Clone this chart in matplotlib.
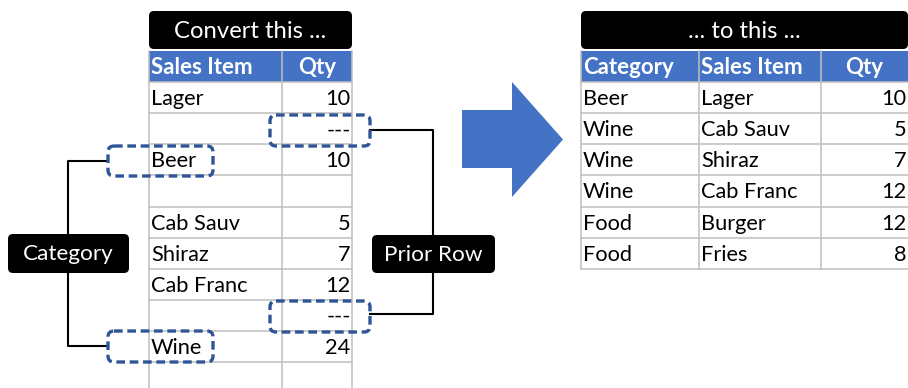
import matplotlib
matplotlib.use("Agg")
import matplotlib.pyplot as plt
from matplotlib.patches import FancyBboxPatch, Rectangle, Polygon

# ---- data ----
left_title = "Convert this ..."
left_headers = ["Sales Item", "Qty"]
left_items = ["Lager", "", "Beer", "", "Cab Sauv", "Shiraz", "Cab Franc", "", "Wine", ""]
left_qty = ["10", "---", "10", "", "5", "7", "12", "---", "24", ""]

right_title = "... to this ..."
right_headers = ["Category", "Sales Item", "Qty"]
right_category = ["Beer", "Wine", "Wine", "Wine", "Food", "Food"]
right_items = ["Lager", "Cab Sauv", "Shiraz", "Cab Franc", "Burger", "Fries"]
right_qty = [10, 5, 7, 12, 12, 8]

label_category = "Category"
label_prior = "Prior Row"

BLUE = "#4472C4"
DASH = "#2F5597"
GRID = "#BFBFBF"
FONT = ["Lato", "DejaVu Sans"]
FS = 15.7
FS_HEAD = 16
FS_TITLE = 17.2
FS_LABEL = 16.2

fig = plt.figure(figsize=(9.08, 3.88), dpi=100)
ax = fig.add_axes([0, 0, 1, 1])
ax.set_xlim(0, 908)
ax.set_ylim(388, 0)
ax.axis("off")


def black_label(x0, y0, x1, y1, text, fs):
    ax.add_patch(FancyBboxPatch((x0, y0), x1 - x0, y1 - y0,
                                boxstyle="round,pad=0,rounding_size=5",
                                fc="black", ec="none", zorder=5))
    ax.text((x0 + x1) / 2, (y0 + y1) / 2 + 1, text, color="white", fontsize=fs,
            family=FONT, ha="center", va="center", zorder=6)


def table(x_cols, y_head, row_h, headers, rows, aligns, y_bottom, right_border=True):
    ax.add_patch(Rectangle((x_cols[0], y_head), x_cols[-1] - x_cols[0], row_h,
                           fc=BLUE, ec="none", zorder=1))
    for i, h in enumerate(headers):
        if aligns[i] == "right":
            xc = (x_cols[i] + x_cols[i + 1]) / 2
            ax.text(xc, y_head + row_h / 2 + 1, h, color="white", fontsize=FS_HEAD,
                    fontweight="bold", family=FONT, ha="center", va="center", zorder=3)
        else:
            ax.text(x_cols[i] + 2, y_head + row_h / 2 + 1, h, color="white", fontsize=FS_HEAD,
                    fontweight="bold", family=FONT, ha="left", va="center", zorder=3)
    y0 = y_head + row_h
    n = len(rows[0])
    for r in range(n + 1):
        y = y0 + r * row_h
        if y <= y_bottom + 0.5:
            ax.plot([x_cols[0], x_cols[-1]], [y, y], color=GRID, lw=1.1, zorder=2)
    xs = x_cols if right_border else x_cols[:-1]
    for x in xs:
        ax.plot([x, x], [y_head, y_bottom], color=GRID, lw=1.1, zorder=2)
    for r in range(n):
        yc = y0 + r * row_h + row_h / 2 + 1.5
        for c, col in enumerate(rows):
            t = str(col[r])
            if not t:
                continue
            if aligns[c] == "right":
                ax.text(x_cols[c + 1] - 1.5, yc, t, fontsize=FS, family=FONT,
                        ha="right", va="center", color="black", zorder=3)
            else:
                ax.text(x_cols[c] + 2, yc, t, fontsize=FS, family=FONT,
                        ha="left", va="center", color="black", zorder=3)


# left table
black_label(149, 11, 352, 49, left_title, FS_TITLE)
table([149, 282, 352], 51, 31.1, left_headers, [left_items, left_qty],
      ["left", "right"], 388)

# right table
black_label(581, 11, 908, 49, right_title, FS_TITLE)
table([581, 699, 821, 908], 51, 31.1, right_headers,
      [right_category, right_items, right_qty], ["left", "left", "right"], 268.7,
      right_border=False)


def dashed_box(x0, y0, x1, y1):
    ax.add_patch(FancyBboxPatch((x0, y0), x1 - x0, y1 - y0,
                                boxstyle="round,pad=0,rounding_size=6",
                                fc="none", ec=DASH, lw=2.4,
                                linestyle=(0, (2.6, 1.4)), zorder=7))


dashed_box(270, 115, 370, 146)
dashed_box(108, 146, 213, 176)
dashed_box(270, 301, 370, 332)
dashed_box(108, 331, 213, 362)

# connectors
ax.plot([108, 68, 68, 108], [161, 161, 346, 346], color="black", lw=1.5, zorder=4)
ax.plot([370, 433, 433, 370], [130, 130, 314, 314], color="black", lw=1.5, zorder=4)
black_label(8, 234, 129, 273, label_category, FS_LABEL)
black_label(372, 235, 495, 273, label_prior, FS_LABEL)

# big arrow
ax.add_patch(Polygon([(462, 110), (512, 110), (512, 82), (563, 139.5),
                      (512, 197), (512, 168), (462, 168)],
                     closed=True, fc=BLUE, ec="none", zorder=3))

fig.savefig("out.png", dpi=100)
